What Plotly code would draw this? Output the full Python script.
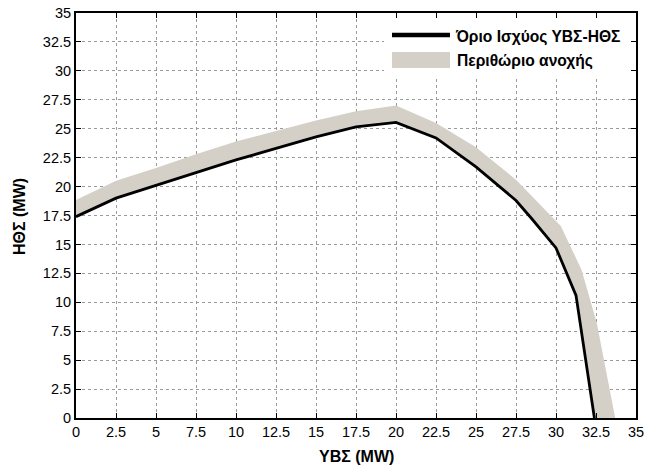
import plotly.graph_objects as go

# Black limit curve (ΥΒΣ, ΗΘΣ) in MW
limit_x = [0, 2.5, 5, 7.5, 10, 12.5, 15, 17.5, 20, 22.5, 25, 27.5, 28.5, 30, 31.25, 32.4]
limit_y = [17.4, 19.0, 20.1, 21.2, 22.3, 23.3, 24.3, 25.15, 25.55, 24.2, 21.7, 18.8, 17.2, 14.7, 10.6, 0]

# Outer edge of tolerance margin band
margin_x = [0, 2.5, 5, 7.5, 10, 12.5, 15, 17.5, 20, 22.5, 25, 27.5, 28.5, 30.3, 31.6, 32.55, 33.7]
margin_y = [18.85, 20.5, 21.6, 22.8, 23.9, 24.8, 25.7, 26.5, 27.0, 25.5, 23.4, 20.6, 19.2, 16.6, 12.8, 8.2, 0]

tick_vals = [i * 2.5 for i in range(15)]

legend_labels = ["Όριο Ισχύος ΥΒΣ-ΗΘΣ", "Περιθώριο ανοχής"]
x_title = "ΥΒΣ (MW)"
y_title = "ΗΘΣ (MW)"

FONT = "Arial, Liberation Sans, sans-serif"
BAND = "#d4d0c8"

W, H = 645, 468
L, R, T, B = 76, 9, 13, 50
PW, PH = W - L - R, H - T - B


def px(xp):
    return (xp - L) / PW


def py(yp):
    return (H - B - yp) / PH


fig = go.Figure()
fig.add_trace(go.Scatter(
    x=margin_x + limit_x[::-1], y=margin_y + limit_y[::-1],
    fill="toself", fillcolor=BAND, mode="lines", line=dict(width=0, color=BAND),
    showlegend=False, hoverinfo="skip"))
fig.add_trace(go.Scatter(
    x=limit_x, y=limit_y, mode="lines", line=dict(color="black", width=2.8),
    showlegend=False))

axis_common = dict(
    range=[0, 35], tickvals=tick_vals, ticks="inside", ticklen=5, tickcolor="black",
    showline=True, linecolor="black", linewidth=2, mirror="allticks",
    showgrid=True, gridcolor="#9a9a9a", griddash="dot", gridwidth=1,
    zeroline=False, automargin=False,
    tickfont=dict(family=FONT, size=14.5, color="black"),
)

fig.update_layout(
    width=W, height=H, margin=dict(l=L, r=R, t=T, b=B),
    paper_bgcolor="white", plot_bgcolor="white",
    xaxis=dict(**axis_common),
    yaxis=dict(**axis_common),
    showlegend=False,
)

shapes = [
    dict(type="rect", xref="paper", yref="paper", x0=px(384), x1=px(631), y0=py(79), y1=py(19),
         fillcolor="white", line=dict(width=0), layer="above"),
    dict(type="line", xref="paper", yref="paper", x0=px(392), x1=px(450), y0=py(35), y1=py(35),
         line=dict(color="black", width=4.7), layer="above"),
    dict(type="rect", xref="paper", yref="paper", x0=px(392), x1=px(450), y0=py(68), y1=py(52),
         fillcolor=BAND, line=dict(width=0), layer="above"),
]
fig.update_layout(shapes=shapes)

annots = [
    dict(text="<b>%s</b>" % legend_labels[0], x=px(453), y=py(37), xanchor="left", yanchor="middle"),
    dict(text="<b>%s</b>" % legend_labels[1], x=px(455), y=py(61), xanchor="left", yanchor="middle"),
]
for a in annots:
    a.update(xref="paper", yref="paper", showarrow=False,
             font=dict(family=FONT, size=15.6, color="black"))
annots.append(dict(text="<b>%s</b>" % x_title, x=px(356), y=py(456), xref="paper", yref="paper",
                   xanchor="center", yanchor="middle", showarrow=False,
                   font=dict(family=FONT, size=16, color="black")))
annots.append(dict(text="<b>%s</b>" % y_title, x=px(19), y=py(217), xref="paper", yref="paper",
                   xanchor="center", yanchor="middle", showarrow=False, textangle=-90,
                   font=dict(family=FONT, size=16, color="black")))
fig.update_layout(annotations=annots)

fig.write_html("out.html")
